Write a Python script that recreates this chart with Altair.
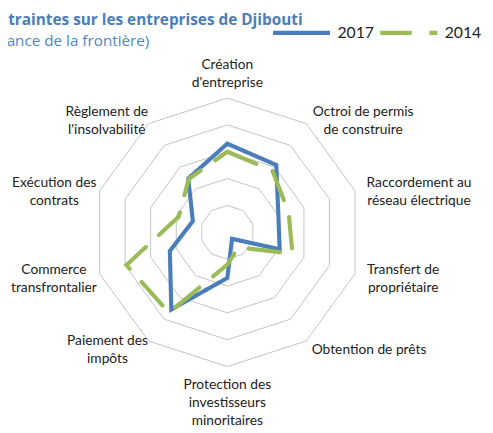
import math
import altair as alt
import pandas as pd

# ---------------- data ----------------
categories = [
    "Création\nd'entreprise",
    "Octroi de permis\nde construire",
    "Raccordement au\nréseau électrique",
    "Transfert de\npropriétaire",
    "Obtention de prêts",
    "Protection des\ninvestisseurs\nminoritaires",
    "Paiement des\nimpôts",
    "Commerce\ntransfrontalier",
    "Exécution des\ncontrats",
    "Règlement de\nl'insolvabilité",
]
values_2017 = [66, 62, 40, 41, 6, 34, 71, 45, 27, 49.5]
values_2014 = [60, 57, 48, 51, 14, 24, 74, 79, 38, 49]
series_names = ["2017", "2014"]
grid_levels = [20, 40, 60, 80, 100]
title_text = "Contraintes sur les entreprises de Djibouti"
subtitle_text = "(Distance de la frontière)"

# ---------------- layout ----------------
W, H = 485, 425
CX, CY = 223.0, 224.5          # centre of radar in view px
K = 1.365                       # px per unit
X_DOM = [-CX / K, (W - CX) / K]
Y_DOM = [-(H - CY) / K, CY / K]
N = len(categories)
LABEL_R = 106.0
FONT = "Lato"
FS = 14
LH = 18
BLUE = "#4a7ebb"
GREEN = "#9bbb59"

xs = alt.Scale(domain=X_DOM, nice=False, zero=False)
ys = alt.Scale(domain=Y_DOM, nice=False, zero=False)

# radar series
rows = []
for name, vals in zip(series_names, [values_2017, values_2014]):
    for j in range(N + 1):
        rows.append({"series": name, "idx": j, "k": j % N, "value": vals[j % N]})
radar = pd.DataFrame(rows)

# grid rings
grows = []
for lv in grid_levels:
    for j in range(N + 1):
        grows.append({"level": lv, "idx": j, "k": j % N, "value": lv})
grid = pd.DataFrame(grows)


def calc(ch):
    return ch.transform_calculate(
        x=f"datum.value * sin(datum.k * 2 * PI / {N})",
        y=f"datum.value * cos(datum.k * 2 * PI / {N})",
    )


rings = calc(alt.Chart(grid)).mark_line(color="#c3c3c3", strokeWidth=1).encode(
    x=alt.X("x:Q", scale=xs, axis=None),
    y=alt.Y("y:Q", scale=ys, axis=None),
    detail="level:N",
    order="idx:Q",
)

legend = alt.Legend(
    orient="none", legendX=267, legendY=-10, direction="horizontal", title=None,
    symbolType="stroke", symbolSize=3364, symbolStrokeWidth=4.5,
    labelFontSize=16, labelFont=FONT, labelColor="#222222", labelOffset=5,
    columnPadding=-4, padding=0,
)


def series_layer(name):
    return calc(alt.Chart(radar)).transform_filter(
        alt.datum.series == name
    ).mark_line(strokeWidth=4.2, strokeCap="round", strokeJoin="miter").encode(
        x=alt.X("x:Q", scale=xs, axis=None),
        y=alt.Y("y:Q", scale=ys, axis=None),
        order="idx:Q",
        color=alt.Color("series:N", scale=alt.Scale(domain=series_names, range=[BLUE, GREEN]), legend=legend),
        strokeDash=alt.StrokeDash("series:N", scale=alt.Scale(domain=series_names, range=[[1, 0], [32, 18]]), legend=legend),
    )


# labels: approximate text widths (Lato, em units) to centre lines in a block
def char_w(c):
    if c in "il'j.,I|!:;":
        return 0.23
    if c == " ":
        return 0.25
    if c in "ftr":
        return 0.35
    if c == "s":
        return 0.42
    if c == "m":
        return 0.82
    if c == "w":
        return 0.72
    if c.isupper():
        return 0.64
    return 0.52


def text_w(s):
    return max(sum(char_w(c) for c in line) for line in s.split("\n")) * FS


SIDE_SHIFT = 4.0   # px, small rightward nudge of the side labels
lrows = []
for i, lab in enumerate(categories):
    a = 2 * math.pi * i / N
    ax = LABEL_R * math.sin(a)
    ay = LABEL_R * math.cos(a)
    n_lines = lab.count("\n") + 1
    h = (n_lines - 1) * LH + FS
    w = text_w(lab)
    s = math.sin(a)
    if abs(s) < 0.1:
        lx = ax
        cy = ay + (h / 2) / K * (1 if ay > 0 else -1)
        if ay < 0:
            cy -= 4 / K
    else:
        lx = ax + (w / 2) / K * (1 if s > 0 else -1) + SIDE_SHIFT / K
        cy = ay - (4 if ay > 0 else 3) / K
    # first line position so that the block is centred on cy
    ly = cy + ((n_lines - 1) * LH / 2) / K
    lrows.append({"label": lab, "lx": lx, "ly": ly})
labels_df = pd.DataFrame(lrows)

labels = alt.Chart(labels_df).mark_text(
    align="center", baseline="middle", lineBreak="\n", font=FONT,
    fontSize=FS, lineHeight=LH, color="#222222",
).encode(
    x=alt.X("lx:Q", scale=xs, axis=None),
    y=alt.Y("ly:Q", scale=ys, axis=None),
    text="label:N",
)

title = alt.Chart(pd.DataFrame({"t": [title_text]})).mark_text(
    align="right", baseline="alphabetic", font="Open Sans", fontSize=15.6,
    fontWeight="bold", color="#4a7ebb",
).encode(x=alt.value(299.5), y=alt.value(13.7), text="t:N")

subtitle = alt.Chart(pd.DataFrame({"t": [subtitle_text]})).mark_text(
    align="right", baseline="alphabetic", font="Open Sans", fontSize=15.5,
    color="#4f86c6",
).encode(x=alt.value(143.7), y=alt.value(35.3), text="t:N")

chart = alt.layer(
    rings, series_layer("2017"), series_layer("2014"), labels, title, subtitle
).properties(
    width=W, height=H, autosize=alt.AutoSizeParams(type="none"), padding=0,
).configure_view(stroke=None)

chart.save("out.html", embed_options={"renderer": "svg", "actions": False})
